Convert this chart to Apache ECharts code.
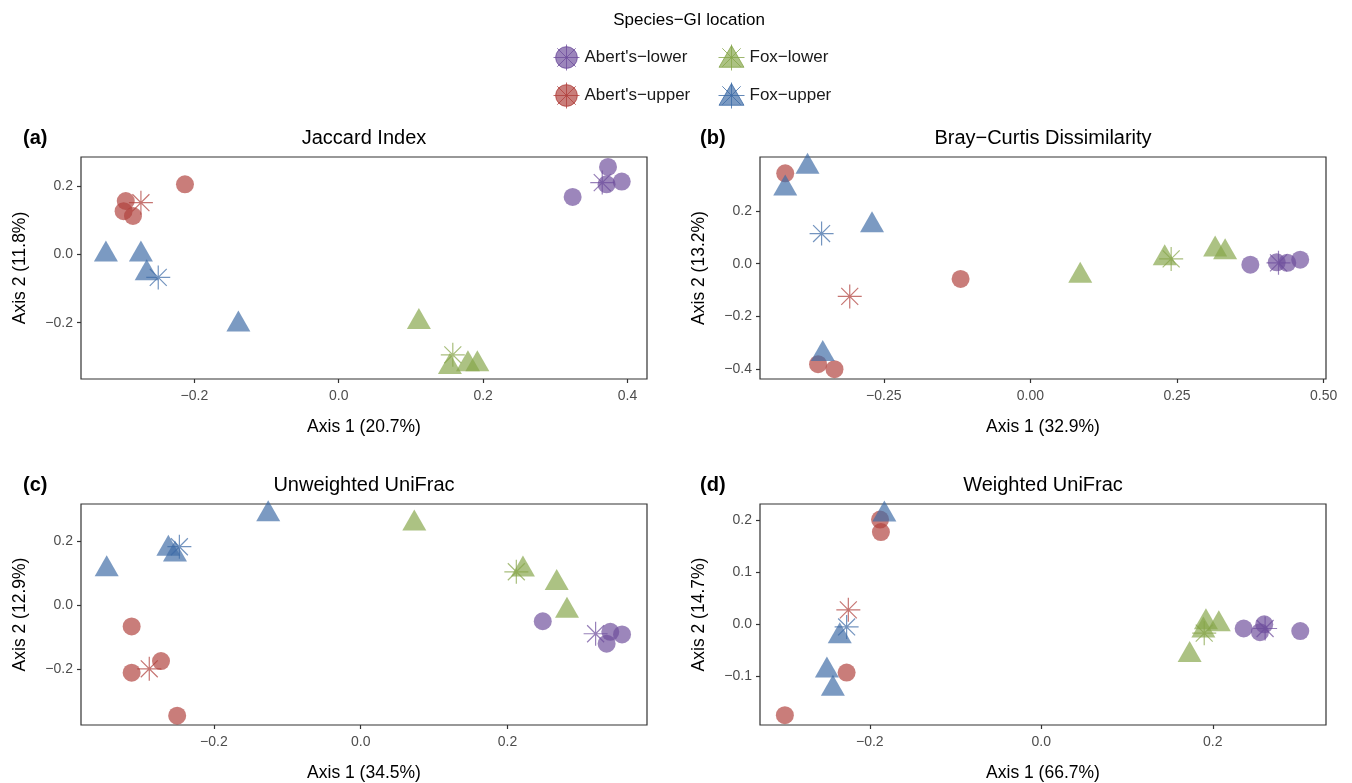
<!DOCTYPE html>
<html><head><meta charset="utf-8">
<script src="https://cdn.jsdelivr.net/npm/echarts@6/dist/echarts.min.js"></script>
<style>html,body{margin:0;padding:0;background:#fff}#chart{width:1352px;height:783px}</style>
</head><body><div id="chart"></div>
<script>
// ---- data ----
const groupNames = ["Abert's\u2212lower", "Abert's\u2212upper", "Fox\u2212lower", "Fox\u2212upper"];
const legendTitle = "Species\u2212GI location";

// Jaccard Index
const jaccardAbertLower = [[0.324, 0.169], [0.373, 0.257], [0.371, 0.206], [0.392, 0.214]];
const jaccardAbertUpper = [[-0.295, 0.157], [-0.298, 0.127], [-0.285, 0.113], [-0.213, 0.206]];
const jaccardFoxLower   = [[0.111, -0.198], [0.154, -0.330], [0.179, -0.322], [0.192, -0.322]];
const jaccardFoxUpper   = [[-0.3225, 0.000], [-0.274, 0.000], [-0.266, -0.055], [-0.139, -0.205]];
const jaccardCentroids  = [[0.365, 0.211], [-0.274, 0.152], [0.158, -0.294], [-0.250, -0.067]];
const jaccardXTicks = [-0.2, 0.0, 0.2, 0.4];
const jaccardYTicks = [-0.2, 0.0, 0.2];

// Bray-Curtis Dissimilarity
const brayAbertLower = [[0.375, -0.004], [0.420, 0.005], [0.438, 0.003], [0.460, 0.015]];
const brayAbertUpper = [[-0.418, 0.342], [-0.362, -0.381], [-0.334, -0.400], [-0.119, -0.058]];
const brayFoxLower   = [[0.085, -0.046], [0.229, 0.020], [0.315, 0.054], [0.332, 0.043]];
const brayFoxUpper   = [[-0.418, 0.285], [-0.380, 0.367], [-0.270, 0.145], [-0.354, -0.342]];
const brayCentroids  = [[0.423, 0.003], [-0.308, -0.124], [0.240, 0.018], [-0.356, 0.114]];
const brayXTicks = [-0.25, 0.00, 0.25, 0.50];
const brayYTicks = [-0.4, -0.2, 0.0, 0.2];

// Unweighted UniFrac
const unwAbertLower = [[0.248, -0.050], [0.340, -0.083], [0.335, -0.120], [0.356, -0.091]];
const unwAbertUpper = [[-0.312, -0.066], [-0.312, -0.210], [-0.272, -0.174], [-0.250, -0.344]];
const unwFoxLower   = [[0.073, 0.254], [0.221, 0.111], [0.267, 0.069], [0.281, -0.017]];
const unwFoxUpper   = [[-0.346, 0.112], [-0.262, 0.176], [-0.253, 0.158], [-0.126, 0.283]];
const unwCentroids  = [[0.320, -0.089], [-0.288, -0.198], [0.212, 0.104], [-0.247, 0.182]];
const unwXTicks = [-0.2, 0.0, 0.2];
const unwYTicks = [-0.2, 0.0, 0.2];

// Weighted UniFrac
const wAbertLower = [[0.236, -0.008], [0.255, -0.015], [0.260, 0.000], [0.302, -0.013]];
const wAbertUpper = [[-0.188, 0.202], [-0.187, 0.178], [-0.227, -0.093], [-0.299, -0.175]];
const wFoxLower   = [[0.173, -0.059], [0.192, 0.004], [0.207, 0.000], [0.189, -0.012]];
const wFoxUpper   = [[-0.183, 0.212], [-0.235, -0.023], [-0.250, -0.089], [-0.243, -0.124]];
const wCentroids  = [[0.261, -0.008], [-0.225, 0.028], [0.190, -0.017], [-0.227, -0.005]];
const wXTicks = [-0.2, 0.0, 0.2];
const wYTicks = [-0.1, 0.0, 0.1, 0.2];

// ---- layout / style ----
const FONT = "'Liberation Sans', Arial, sans-serif";
const colors = ['#6E4E9C', '#B0403C', '#86A54A', '#3D6BA6'];
const shapes = ['circle', 'circle', 'triangle', 'triangle'];
const ALPHA = 0.85;
function rgba(hex, a) {
  const n = parseInt(hex.slice(1), 16);
  return 'rgba(' + (n >> 16) + ',' + ((n >> 8) & 255) + ',' + (n & 255) + ',' + a + ')';
}
const STAR = 'path://M10,0L10,20M0,10L20,10M2.93,2.93L17.07,17.07M17.07,2.93L2.93,17.07';
const ICON_CIRCLE = 'path://M12,2A10,10 0 1,1 11.99,2ZM12,0L12,24M0,12L24,12M3.5,3.5L20.5,20.5M20.5,3.5L3.5,20.5';
const ICON_TRI = 'path://M12,1L23.5,21L0.5,21ZM12,0L12,24M0,12L24,12M3.5,3.5L20.5,20.5M20.5,3.5L3.5,20.5';

const panels = [
  {tag: '(a)', title: 'Jaccard Index', groups: [jaccardAbertLower, jaccardAbertUpper, jaccardFoxLower, jaccardFoxUpper], cen: jaccardCentroids,
   xt: jaccardXTicks, yt: jaccardYTicks, xr: [-0.357, 0.427], yr: [-0.365, 0.286], xDec: 1, yDec: 1,
   xName: 'Axis 1 (20.7%)', yName: 'Axis 2 (11.8%)', left: 81, top: 157},
  {tag: '(b)', title: 'Bray\u2212Curtis Dissimilarity', groups: [brayAbertLower, brayAbertUpper, brayFoxLower, brayFoxUpper], cen: brayCentroids,
   xt: brayXTicks, yt: brayYTicks, xr: [-0.461, 0.504], yr: [-0.437, 0.404], xDec: 2, yDec: 1,
   xName: 'Axis 1 (32.9%)', yName: 'Axis 2 (13.2%)', left: 760, top: 157},
  {tag: '(c)', title: 'Unweighted UniFrac', groups: [unwAbertLower, unwAbertUpper, unwFoxLower, unwFoxUpper], cen: unwCentroids,
   xt: unwXTicks, yt: unwYTicks, xr: [-0.381, 0.390], yr: [-0.373, 0.315], xDec: 1, yDec: 1,
   xName: 'Axis 1 (34.5%)', yName: 'Axis 2 (12.9%)', left: 81, top: 504},
  {tag: '(d)', title: 'Weighted UniFrac', groups: [wAbertLower, wAbertUpper, wFoxLower, wFoxUpper], cen: wCentroids,
   xt: wXTicks, yt: wYTicks, xr: [-0.328, 0.332], yr: [-0.194, 0.232], xDec: 1, yDec: 1,
   xName: 'Axis 1 (66.7%)', yName: 'Axis 2 (14.7%)', left: 760, top: 504}
];
const GW = 566, GH = 222;

function fmt(dec) {
  return function (v) {
    const s = Math.abs(v).toFixed(dec);
    return (v < -1e-9 ? '\u2212' : '') + s;
  };
}

const grid = [], xAxis = [], yAxis = [], series = [], graphic = [];
panels.forEach(function (p, i) {
  grid.push({left: p.left, top: p.top, width: GW, height: GH, show: true, borderColor: '#333', borderWidth: 1.2, backgroundColor: '#fff'});
  xAxis.push({
    type: 'value', gridIndex: i, min: p.xr[0], max: p.xr[1], position: 'bottom',
    axisLine: {show: false, onZero: false},
    axisTick: {show: true, length: 4, lineStyle: {color: '#333', width: 1.2}, customValues: p.xt},
    axisLabel: {customValues: p.xt, formatter: fmt(p.xDec), color: '#4d4d4d', fontSize: 14, margin: 10, fontFamily: FONT},
    splitLine: {show: false},
    name: p.xName, nameLocation: 'middle', nameGap: 39,
    nameTextStyle: {fontSize: 17.5, color: '#000', fontFamily: FONT}
  });
  yAxis.push({
    type: 'value', gridIndex: i, min: p.yr[0], max: p.yr[1], position: 'left',
    axisLine: {show: false, onZero: false},
    axisTick: {show: true, length: 4, lineStyle: {color: '#333', width: 1.2}, customValues: p.yt},
    axisLabel: {customValues: p.yt, formatter: fmt(p.yDec), color: '#4d4d4d', fontSize: 14, margin: 8, fontFamily: FONT},
    splitLine: {show: false},
    name: p.yName, nameLocation: 'middle', nameGap: 52,
    nameTextStyle: {fontSize: 17.5, color: '#000', fontFamily: FONT}
  });
  p.groups.forEach(function (pts, g) {
    const tri = shapes[g] === 'triangle';
    series.push({
      type: 'scatter', name: groupNames[g], xAxisIndex: i, yAxisIndex: i, data: pts,
      symbol: shapes[g], symbolSize: tri ? [24, 21] : 18, symbolOffset: tri ? [0, -3.5] : [0, 0],
      itemStyle: {color: rgba(colors[g], ALPHA)}, z: 2, emphasis: {disabled: true}
    });
  });
  p.cen.forEach(function (c, g) {
    series.push({
      type: 'scatter', name: groupNames[g], xAxisIndex: i, yAxisIndex: i, data: [c],
      symbol: STAR, symbolSize: 24,
      itemStyle: {color: 'rgba(0,0,0,0)', borderColor: rgba(colors[g], 0.9), borderWidth: 1.2}, z: 3, emphasis: {disabled: true}
    });
  });
  const ty = p.top - 19;
  graphic.push({type: 'text', x: p.left > 400 ? 700 : 23, y: ty, style: {text: p.tag, fontSize: 20, fontWeight: 'bold', fill: '#000', fontFamily: FONT, textAlign: 'left', textVerticalAlign: 'middle'}});
  graphic.push({type: 'text', x: p.left + GW / 2, y: ty, style: {text: p.title, fontSize: 20, fill: '#000', fontFamily: FONT, textAlign: 'center', textVerticalAlign: 'middle'}});
});
graphic.push({type: 'text', x: 689, y: 20, style: {text: legendTitle, fontSize: 17, fill: '#000', fontFamily: FONT, textAlign: 'center', textVerticalAlign: 'middle'}});

const legendPos = [[553, 44], [553, 82], [718, 44], [718, 82]];
const legend = groupNames.map(function (nm, g) {
  return {
    data: [{name: nm, icon: g < 2 ? ICON_CIRCLE : ICON_TRI,
            itemStyle: {color: rgba(colors[g], ALPHA), borderColor: colors[g], borderWidth: 1}}],
    left: legendPos[g][0], top: legendPos[g][1], itemWidth: 26, itemHeight: 26, padding: 0,
    textStyle: {fontSize: 17, color: '#1a1a1a', fontFamily: FONT}
  };
});

const chart = echarts.init(document.getElementById('chart'), null, {renderer: 'canvas'});
chart.setOption({
  backgroundColor: '#fff', animation: false, textStyle: {fontFamily: FONT},
  grid: grid, xAxis: xAxis, yAxis: yAxis, series: series, legend: legend, graphic: graphic
});
</script>
</body></html>
